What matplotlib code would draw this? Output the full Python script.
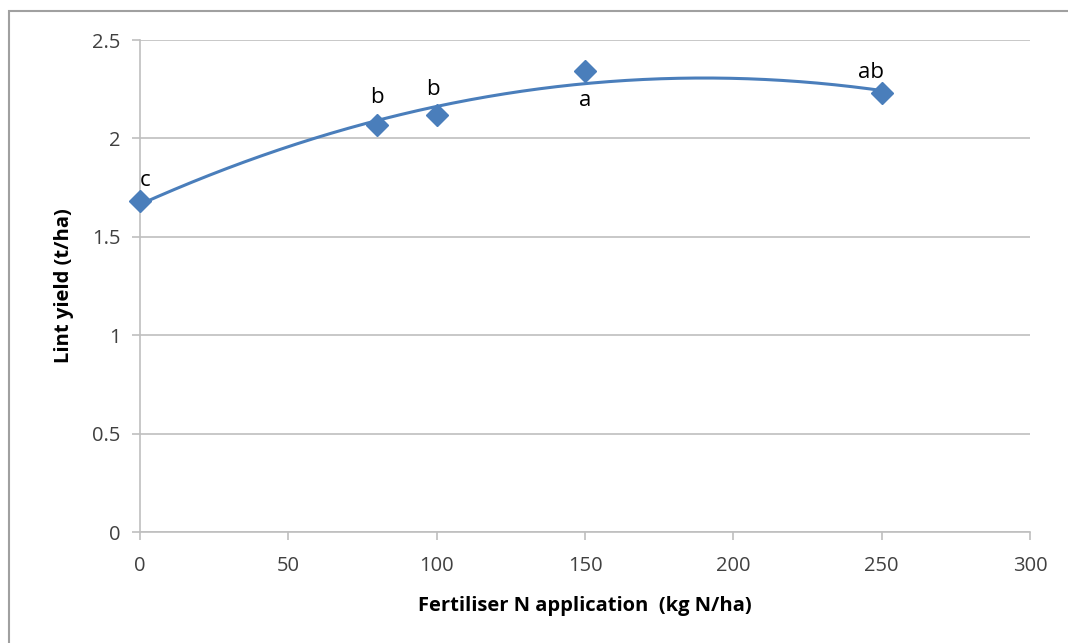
import numpy as np
import matplotlib
matplotlib.use("Agg")
import matplotlib.pyplot as plt
from matplotlib.patches import Rectangle

# Data
n_rate = [0, 80, 100, 150, 250]
lint_yield = [1.68, 2.07, 2.12, 2.34, 2.23]
letters = ["c", "b", "b", "a", "ab"]
letter_offsets_px = [(5, 21), (0, 27), (-4, 25), (0, -29), (-11, 21)]
x_ticks = [0, 50, 100, 150, 200, 250, 300]
y_ticks = [0, 0.5, 1, 1.5, 2, 2.5]
y_tick_labels = ["0", "0.5", "1", "1.5", "2", "2.5"]

plt.rcParams['font.family'] = ['Open Sans', 'DejaVu Sans']

fig = plt.figure(figsize=(10.68, 6.43), dpi=100)
ax = fig.add_axes([140/1068, 1-532/643, (1030-140)/1068, (532-40)/643])

blue = "#4A7EBB"
grid_c = "#BFBFBF"
text_c = "#404040"

# Polynomial (order 2) trendline
coef = np.polyfit(n_rate, lint_yield, 2)
xs = np.linspace(min(n_rate), max(n_rate), 300)
ax.plot(xs, np.polyval(coef, xs), color=blue, lw=2.2, zorder=2)
ax.plot(n_rate, lint_yield, linestyle="none", marker="D", ms=11, color=blue,
        markeredgecolor=blue, zorder=3, clip_on=False)

for x, y, t, (dx, dy) in zip(n_rate, lint_yield, letters, letter_offsets_px):
    ax.annotate(t, (x, y), xytext=(dx, dy), textcoords="offset pixels",
                ha="center", va="center", fontsize=16, color="black")

ax.set_xlim(0, 300)
ax.set_ylim(0, 2.5)
ax.set_xticks(x_ticks)
ax.set_yticks(y_ticks)
ax.set_yticklabels(y_tick_labels)
ax.yaxis.grid(True, color=grid_c, lw=1.2)
ax.set_axisbelow(True)
for s in ["top", "right"]:
    ax.spines[s].set_visible(False)
for s in ["left", "bottom"]:
    ax.spines[s].set_color(grid_c)
    ax.spines[s].set_linewidth(1.2)
ax.tick_params(axis="both", colors=grid_c, labelcolor=text_c, labelsize=14.5,
               length=6, width=1.2)
ax.tick_params(axis="x", pad=11)
ax.tick_params(axis="y", pad=8)

ax.set_xlabel("Fertiliser N application  (kg N/ha)", fontsize=14.5,
              fontweight="bold", color="black", labelpad=15)
ax.set_ylabel("Lint yield (t/ha)", fontsize=14.5, fontweight="bold",
              color="black", labelpad=13)

# Outer chart border
fig.patches.append(Rectangle((9/1068, -0.01), 1.02, 1-11/643+0.01,
                             transform=fig.transFigure, fill=False,
                             edgecolor="#A0A0A0", lw=1.5))

fig.savefig("out.png", dpi=100)
